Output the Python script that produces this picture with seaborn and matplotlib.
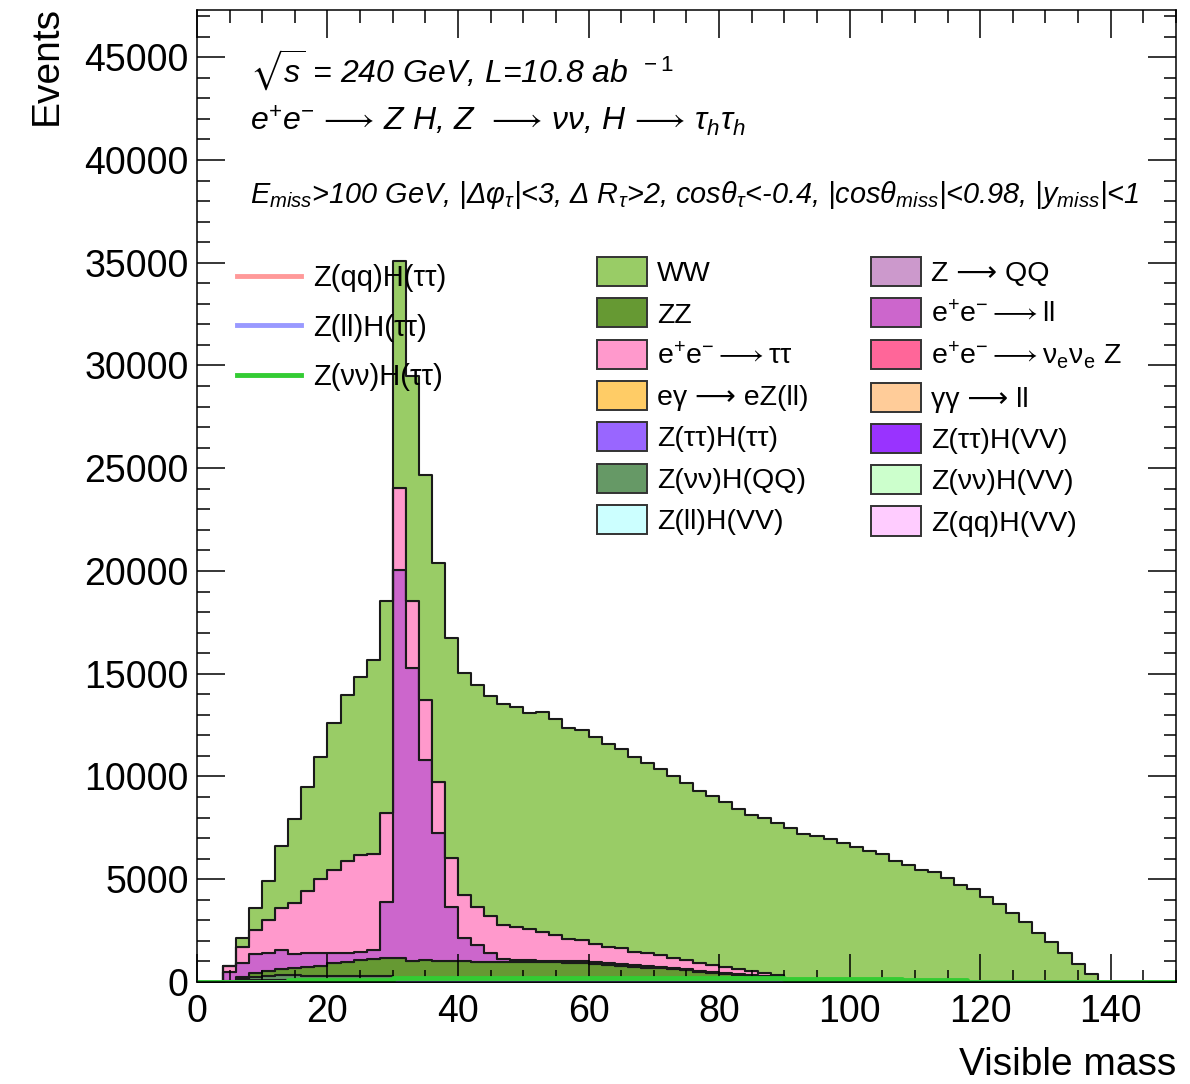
import numpy as np
import pandas as pd
import matplotlib
matplotlib.use("Agg")
import matplotlib.pyplot as plt
from matplotlib.patches import Patch
from matplotlib.lines import Line2D
from matplotlib.ticker import MultipleLocator
import seaborn as sns

plt.rcParams['font.family'] = ['Liberation Sans', 'DejaVu Sans']
plt.rcParams['mathtext.fontset'] = 'custom'
plt.rcParams['mathtext.rm'] = 'Liberation Sans'
plt.rcParams['mathtext.it'] = 'Liberation Sans:italic'
plt.rcParams['mathtext.bf'] = 'Liberation Sans:bold'
plt.rcParams['mathtext.fallback'] = 'stixsans'

# visible mass bins, 2 GeV wide (75 bins from 0 to 150)
n_bins = 75
x_range = (0, 150)
centers = np.arange(1, 150, 2)

# per-process events in each bin
ww = [0, 0, 0, 450, 1080, 1890, 3000, 4100, 5060, 5970,
      7130, 8060, 8640, 9430, 10350, 11020, 10940, 10970, 10650, 10680,
      10820, 10820, 10710, 10750, 10700, 10510, 10680, 10520, 10260, 10220,
      10050, 9860, 9710, 9490, 9240, 9040, 8850, 8590, 8360, 8220,
      8010, 7810, 7590, 7540, 7410, 7510, 7200, 7120, 6970, 6750,
      6580, 6370, 6230, 5900, 5680, 5450, 5370, 5060, 4730, 4520,
      4150, 3780, 3370, 2920, 2400, 1950, 1400, 860, 370, 0,
      0, 0, 0, 0, 0]
ee_tautau = [0, 0, 280, 790, 1190, 1590, 2050, 2470, 3010, 3560,
             4020, 4470, 4700, 4670, 4330, 3990, 3300, 2920, 2510, 2380,
             2090, 1830, 1810, 1650, 1620, 1510, 1410, 1260, 1060, 1040,
             890, 810, 770, 660, 630, 590, 500, 450, 360, 340,
             300, 230, 200, 140, 120, 0, 0, 0, 0, 0,
             0, 0, 0, 0, 0, 0, 0, 0, 0, 0,
             0, 0, 0, 0, 0, 0, 0, 0, 0, 0,
             0, 0, 0, 0, 0]
ee_ll = [0, 0, 450, 680, 890, 900, 940, 690, 690, 640,
         520, 440, 410, 460, 2720, 18920, 14240, 9730, 6210, 2640,
         1120, 810, 410, 140, 90, 80, 80, 80, 80, 80,
         80, 70, 70, 70, 70, 60, 60, 50, 50, 50,
         40, 40, 30, 30, 20, 0, 0, 0, 0, 0,
         0, 0, 0, 0, 0, 0, 0, 0, 0, 0,
         0, 0, 0, 0, 0, 0, 0, 0, 0, 0,
         0, 0, 0, 0, 0]
zz = [0, 0, 50, 70, 190, 240, 300, 350, 430, 490,
      610, 710, 780, 810, 870, 950, 920, 1020, 1020, 1020,
      1000, 990, 990, 980, 980, 970, 960, 950, 940, 920,
      880, 840, 800, 740, 700, 660, 620, 570, 500, 440,
      400, 350, 300, 250, 200, 0, 0, 0, 0, 0,
      0, 0, 0, 0, 0, 0, 0, 0, 0, 0,
      0, 0, 0, 0, 0, 0, 0, 0, 0, 0,
      0, 0, 0, 0, 0]
znn_hqq = [0, 0, 0, 120, 180, 200, 230, 250, 260, 270,
           280, 280, 290, 290, 280, 200, 100, 50, 0, 0,
           0, 0, 0, 0, 0, 0, 0, 0, 0, 0,
           0, 0, 0, 0, 0, 0, 0, 0, 0, 0,
           0, 0, 0, 0, 0, 0, 0, 0, 0, 0,
           0, 0, 0, 0, 0, 0, 0, 0, 0, 0,
           0, 0, 0, 0, 0, 0, 0, 0, 0, 0,
           0, 0, 0, 0, 0]
z_qq = [0, 0, 0, 40, 80, 90, 90, 70, 50, 30,
        20, 0, 0, 0, 0, 0, 0, 0, 0, 0,
        0, 0, 0, 0, 0, 0, 0, 0, 0, 0,
        0, 0, 0, 0, 0, 0, 0, 0, 0, 0,
        0, 0, 0, 0, 0, 0, 0, 0, 0, 0,
        0, 0, 0, 0, 0, 0, 0, 0, 0, 0,
        0, 0, 0, 0, 0, 0, 0, 0, 0, 0,
        0, 0, 0, 0, 0]

# signal samples, drawn as lines
sig_qq = [0, 0, 0, 0, 0, 0, 0, 5, 5, 5,
          5, 5, 5, 5, 10, 10, 10, 10, 5, 5,
          5, 5, 5, 5, 5, 5, 5, 5, 5, 5,
          5, 5, 5, 5, 5, 5, 5, 5, 5, 5,
          0, 0, 0, 0, 0, 0, 0, 0, 0, 0,
          0, 0, 0, 0, 0, 0, 0, 0, 0, 0,
          0, 0, 0, 0, 0, 0, 0, 0, 0, 0,
          0, 0, 0, 0, 0]
sig_ll = [0, 0, 0, 0, 0, 0, 0, 10, 10, 10,
          10, 10, 10, 10, 10, 10, 10, 10, 10, 10,
          10, 10, 10, 10, 10, 10, 10, 10, 10, 10,
          10, 10, 10, 10, 10, 10, 10, 10, 10, 10,
          10, 10, 10, 10, 10, 10, 10, 10, 10, 10,
          10, 10, 10, 0, 0, 0, 0, 0, 0, 0,
          0, 0, 0, 0, 0, 0, 0, 0, 0, 0,
          0, 0, 0, 0, 0]
sig_nn = [0, 0, 0, 0, 0, 0, 0, 100, 100, 100,
          100, 100, 100, 100, 100, 180, 180, 180, 180, 180,
          180, 180, 180, 180, 180, 180, 180, 180, 180, 180,
          180, 180, 180, 180, 180, 180, 180, 180, 180, 180,
          180, 180, 180, 180, 180, 170, 170, 170, 170, 170,
          170, 170, 170, 170, 120, 120, 120, 120, 120, 0,
          0, 0, 0, 0, 0, 0, 0, 0, 0, 0,
          0, 0, 0, 0, 0]

stack_names = ['WW', 'ee_tautau', 'ee_ll', 'ZZ', 'ZnnHQQ', 'ZQQ']
stack_vals = [ww, ee_tautau, ee_ll, zz, znn_hqq, z_qq]
stack_cols = ['#99CC66', '#FF99CC', '#CC66CC', '#669933', '#669966', '#CC99CC']

df = pd.concat([pd.DataFrame({'x': centers, 'w': v, 'proc': n})
                for n, v in zip(stack_names, stack_vals)], ignore_index=True)

fig = plt.figure(figsize=(11.9, 10.84), dpi=100)
ax = fig.add_axes([0.1655, 0.0941, 0.8227, 0.8967])

sns.histplot(data=df, x='x', weights='w', hue='proc', hue_order=stack_names,
             palette=dict(zip(stack_names, stack_cols)), bins=n_bins,
             binrange=x_range, multiple='stack', element='step', alpha=1,
             edgecolor='#1a1a1a', linewidth=1.5, legend=False, ax=ax)

sig_names = ['Z(qq)H(ττ)', 'Z(ll)H(ττ)', 'Z(νν)H(ττ)']
sig_vals = [sig_qq, sig_ll, sig_nn]
sig_cols = ['#FF9999', '#9999FF', '#33CC33']
for v, c in zip(sig_vals, sig_cols):
    sig_df = pd.DataFrame({'x': centers, 'w': v})
    sns.histplot(data=sig_df, x='x', weights='w', bins=n_bins, binrange=x_range,
                 element='step', fill=False, color=c, linewidth=3.5, ax=ax)

ax.set_xlim(0, 150)
ax.set_ylim(0, 47300)
ax.xaxis.set_major_locator(MultipleLocator(20))
ax.xaxis.set_minor_locator(MultipleLocator(5))
ax.yaxis.set_major_locator(MultipleLocator(5000))
ax.yaxis.set_minor_locator(MultipleLocator(1000))
ax.ticklabel_format(style='plain', useOffset=False)
ax.tick_params(which='both', direction='in', top=True, right=True, width=1.1,
               labelsize=27)
ax.tick_params(which='major', length=20)
ax.tick_params(which='minor', length=9)
ax.tick_params(axis='x', pad=9)
ax.tick_params(axis='y', pad=6)
for s in ax.spines.values():
    s.set_linewidth(1.1)

ax.set_xlabel('Visible mass', fontsize=28, loc='right')
ax.xaxis.set_label_coords(1.0, -0.067)
ax.set_ylabel('Events', fontsize=28, loc='top')
ax.yaxis.set_label_coords(-0.135, 1.004)

# plain-text arrow for strings without math, math arrow inside mathtext strings
arrow = '⟶'
m_arrow = r'$\longrightarrow$'
t_arrow = r'$\,\longrightarrow\,$'
fig.text(0.210, 0.9354, r'$\sqrt{s}$ = 240 GeV, L=10.8 ab$^{\ \ -1}$',
         fontsize=23, style='italic', va='center')
fig.text(0.210, 0.889,
         r'e$^{+}$e$^{-}$' + t_arrow + 'Z H, Z ' + t_arrow + 'νν, H' + t_arrow + r'τ$_{h}$τ$_{h}$',
         fontsize=23, style='italic', va='center')
fig.text(0.210, 0.820,
         r'E$_{miss}$>100 GeV, |Δφ$_{τ}$|<3, Δ R$_{τ}$>2, cosθ$_{τ}$<-0.4, |cosθ$_{miss}$|<0.98, |y$_{miss}$|<1',
         fontsize=20.8, style='italic', va='center')

# line legend (signals)
line_handles = [Line2D([], [], color=c, lw=3.5) for c in sig_cols]
leg1 = ax.legend(line_handles, sig_names, loc='upper left',
                 bbox_to_anchor=(237 / 1190, 1 - 264 / 1084),
                 bbox_transform=fig.transFigure, frameon=False, fontsize=21,
                 handlelength=2.2, handletextpad=0.42, labelspacing=0.74,
                 borderpad=0, borderaxespad=0)
ax.add_artist(leg1)

# fill legend (backgrounds), two columns
bkg_labels = ['WW', 'ZZ', r'e$^{+}$e$^{-}$' + m_arrow + 'ττ', 'eγ ' + arrow + ' eZ(ll)',
              'Z(ττ)H(ττ)', 'Z(νν)H(QQ)', 'Z(ll)H(VV)',
              'Z ' + arrow + ' QQ', r'e$^{+}$e$^{-}$' + m_arrow + 'll',
              r'e$^{+}$e$^{-}$' + m_arrow + r'ν$_{\mathrm{e}}$ν$_{\mathrm{e}}$ Z',
              'γγ ' + arrow + ' ll',
              'Z(ττ)H(VV)', 'Z(νν)H(VV)', 'Z(qq)H(VV)']
bkg_cols = ['#99CC66', '#669933', '#FF99CC', '#FFCC66', '#9966FF', '#669966',
            '#CCFFFF', '#CC99CC', '#CC66CC', '#FF6699', '#FFCC99', '#9933FF',
            '#CCFFCC', '#FFCCFF']
patches = [Patch(facecolor=c, edgecolor='#333333', lw=1.4) for c in bkg_cols]
ax.legend(patches, bkg_labels, ncol=2, loc='upper left',
          bbox_to_anchor=(597 / 1190, 1 - 257 / 1084),
          bbox_transform=fig.transFigure, frameon=False, fontsize=20.5,
          handlelength=1.75, handleheight=1.2, handletextpad=0.35,
          labelspacing=0.39, columnspacing=2.2, borderpad=0, borderaxespad=0)

fig.savefig('out.png', dpi=100)
